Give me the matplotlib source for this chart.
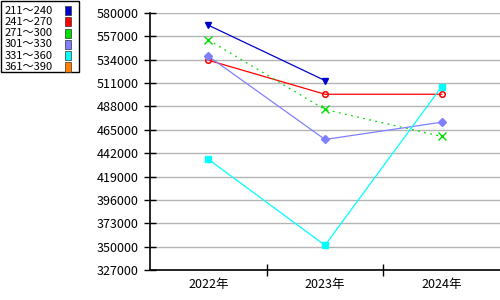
import matplotlib
matplotlib.use("Agg")
import matplotlib.pyplot as plt
from matplotlib.patches import Rectangle

plt.rcParams["font.family"] = ["Noto Sans CJK JP", "DejaVu Sans"]

years = ["2022年", "2023年", "2024年"]
ranges = ["211～240", "241～270", "271～300", "301～330", "331～360", "361～390"]
colors = ["#0000cc", "#ff0000", "#00dd00", "#8080ff", "#00ffff", "#ff8000"]

# values per price band (None = no data)
v_211 = [568000, 513500, None]
v_241 = [533500, 500000, 500000]
v_271 = [553500, 485000, 458500]
v_301 = [537500, 455500, 472500]
v_331 = [436000, 351300, 507500]
v_361 = [None, None, None]

yticks = list(range(327000, 580001, 23000))

series = [v_211, v_241, v_271, v_301, v_331, v_361]
styles = [
    dict(marker="v", ms=4, ls="-"),
    dict(marker="o", ms=4, ls="-", mfc="none", mew=1.1),
    dict(marker="x", ms=6, ls=(0, (1.5, 3.5))),
    dict(marker="D", ms=4, ls="-"),
    dict(marker="s", ms=5, ls="-"),
    dict(marker="o", ms=4, ls="-"),
]

fig = plt.figure(figsize=(5, 3), dpi=100)
ax = fig.add_axes([0.30, 0.10, 0.70, 0.8567])

for vals, col, st in zip(series, colors, styles):
    xs = [i for i, v in enumerate(vals) if v is not None]
    ys = [v for v in vals if v is not None]
    if not xs:
        continue
    ax.plot(xs, ys, color=col, lw=0.9, mec=col, **st, zorder=3)

ax.set_xlim(-0.5, 2.5)
ax.set_ylim(327000, 580000)
ax.set_yticks(yticks)
ax.set_yticklabels([str(t) for t in yticks])
ax.set_xticks([0, 1, 2])
ax.set_xticklabels(years)
ax.set_xticks([0.5, 1.5], minor=True)
ax.tick_params(axis="x", which="major", length=0, labelsize=9, pad=6)
ax.tick_params(axis="x", which="minor", direction="inout", length=8, width=1)
ax.tick_params(axis="y", direction="inout", length=8, width=1, labelsize=9, pad=4)
ax.yaxis.grid(True, color="#b4b4b4", lw=1)
ax.set_axisbelow(True)
for s in ("top", "right"):
    ax.spines[s].set_visible(False)
for s in ("left", "bottom"):
    ax.spines[s].set_linewidth(1.2)

# legend box, top-left, drawn in pixel fractions
W, H = 500, 300
fig.patches.append(Rectangle((0.5 / W, 1 - 72 / H), 78 / W, 71.5 / H,
                             transform=fig.transFigure, fill=False,
                             ec="black", lw=1))
for i, (lab, col) in enumerate(zip(ranges, colors)):
    yc = 10.5 + i * 11.3
    fig.text(5 / W, 1 - yc / H, lab, fontsize=8, va="center", ha="left")
    fig.patches.append(Rectangle((65 / W, 1 - (yc + 4.5) / H), 6 / W, 9 / H,
                                 transform=fig.transFigure, fc=col,
                                 ec="#333333", lw=0.5))

fig.savefig("out.png", dpi=100)
